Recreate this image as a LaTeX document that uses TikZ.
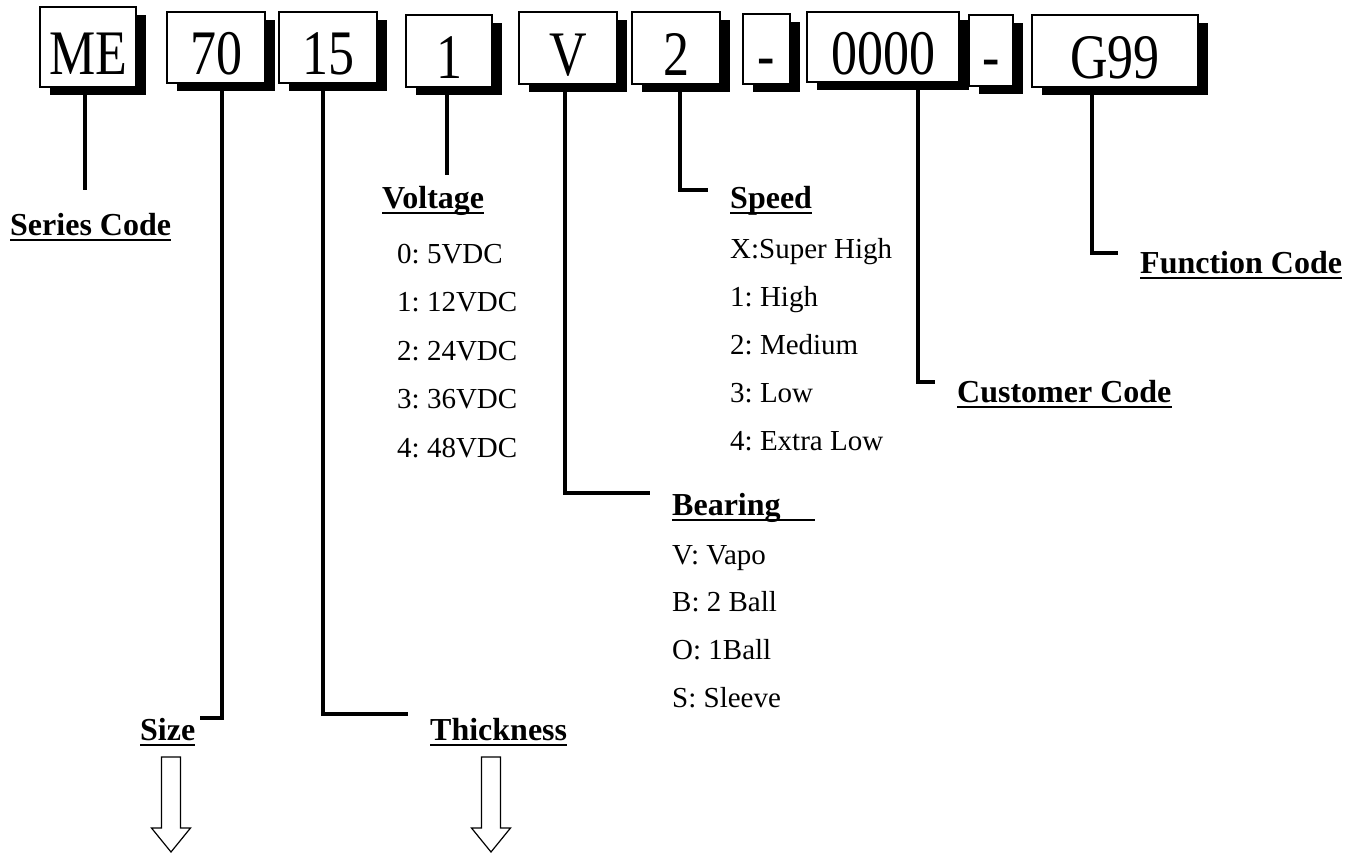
\documentclass[tikz,border=0pt]{standalone}
\usepackage{fontspec}
\setmainfont{Liberation Serif}
\usetikzlibrary{shadows}
\frenchspacing
\newcommand{\tall}[1]{\scalebox{1}[1.22]{#1}}

\begin{document}
\begin{tikzpicture}[x=1pt, y=-1pt,
    codebox/.style={draw, line width=1.3pt, fill=white, inner sep=0pt,
        font=\fontsize{52}{52}\selectfont, text height=54pt, text depth=0pt,
        drop shadow={fill=black, opacity=1, shadow xshift=10pt, shadow yshift=-8pt}},
    lead/.style={line width=3.6pt},
    title/.style={anchor=base west, inner sep=0pt, font=\fontsize{32}{32}\selectfont\bfseries},
    uline/.style={line width=2.6pt},
    item/.style={anchor=base west, inner sep=0pt, font=\fontsize{29}{29}\selectfont}]

        \useasboundingbox (0,0) rectangle (1362,854);

        % Code boxes
        \node[codebox, minimum width=96pt, minimum height=80pt] (me) at (88,47) {\tall{ME}};
        \node[codebox, minimum width=98pt, minimum height=71pt] (sz) at (216,47.5) {\tall{70}};
        \node[codebox, minimum width=98pt, minimum height=71pt] (th) at (328,47.5) {\tall{15}};
        \node[codebox, minimum width=86pt, minimum height=72pt] (vo) at (449,51) {\tall{1}};
        \node[codebox, minimum width=98pt, minimum height=72pt] (br) at (568,48) {\tall{V}};
        \node[codebox, minimum width=88pt, minimum height=72pt] (sp) at (676,48) {\tall{2}};
        \node[codebox, minimum width=47pt, minimum height=70pt] (da) at (766.5,49) {\tall{-}};
        \node[codebox, minimum width=152pt, minimum height=70pt] (cu) at (883,47) {\tall{0000}};
        \node[codebox, minimum width=44pt, minimum height=71pt] (db) at (991,50.5) {\tall{-}};
        \node[codebox, minimum width=166pt, minimum height=72pt] (fn) at (1115,51) {\tall{G99}};

        % Field titles
        \node[title] (seriest) at (10,235) {Series Code};
        \node[title] (voltt) at (382,208) {Voltage};
        \node[title] (speedt) at (730,208) {Speed};
        \node[title] (funct) at (1140,273) {Function Code};
        \node[title] (custt) at (957,402) {Customer Code};
        \node[title] (beart) at (672,515) {Bearing\hbox to 34pt{}};
        \node[title] (sizet) at (140,740) {Size};
        \node[title] (thickt) at (430,740) {Thickness};

        % Underlines
        \foreach \n in {seriest,voltt,speedt,funct,custt,beart,sizet,thickt}
            \draw[uline] ([yshift=-4.8pt]\n.base west) -- ([yshift=-4.8pt]\n.base east);

        % Option lists
        \foreach \t [count=\i from 0] in {0: 5VDC, 1: 12VDC, 2: 24VDC, 3: 36VDC, 4: 48VDC}
            \node[item] (volt\i) at (397,{263+48.5*\i}) {\t};
        \foreach \t [count=\i from 0] in {X:Super High, 1: High, 2: Medium, 3: Low, 4: Extra Low}
            \node[item] (speed\i) at (730,{258+48*\i}) {\t};
        \foreach \t [count=\i from 0] in {V: Vapo, B: 2 Ball, O: 1Ball, S: Sleeve}
            \node[item] (bear\i) at (672,{564+47.7*\i}) {\t};

        % Ends of the leader lines
        \coordinate (meend) at (85,190);
        \coordinate (szend) at (200,718);
        \coordinate (thend) at (408,714);
        \coordinate (voend) at (447,175);
        \coordinate (brend) at (650,493);
        \coordinate (spend) at (708,190);
        \coordinate (cuend) at (935,382);
        \coordinate (fnend) at (1118,253);

        % Leader lines
        \draw[lead] (85,0 |- me.south) -- (meend);
        \draw[lead] (222,0 |- sz.south) |- (szend);
        \draw[lead] (323,0 |- th.south) |- (thend);
        \draw[lead] (447,0 |- vo.south) -- (voend);
        \draw[lead] (565,0 |- br.south) |- (brend);
        \draw[lead] (680,0 |- sp.south) |- (spend);
        \draw[lead] (918,0 |- cu.south) |- (cuend);
        \draw[lead] (1092,0 |- fn.south) |- (fnend);

        % Hollow arrows under Size and Thickness
        \foreach \ax in {171,491}
            \draw[line width=1.2pt, fill=white] (\ax-9.5,757) -- (\ax-9.5,828) -- (\ax-19.5,828)
                -- (\ax,852) -- (\ax+19.5,828) -- (\ax+9.5,828) -- (\ax+9.5,757) -- cycle;

\end{tikzpicture}
\end{document}
